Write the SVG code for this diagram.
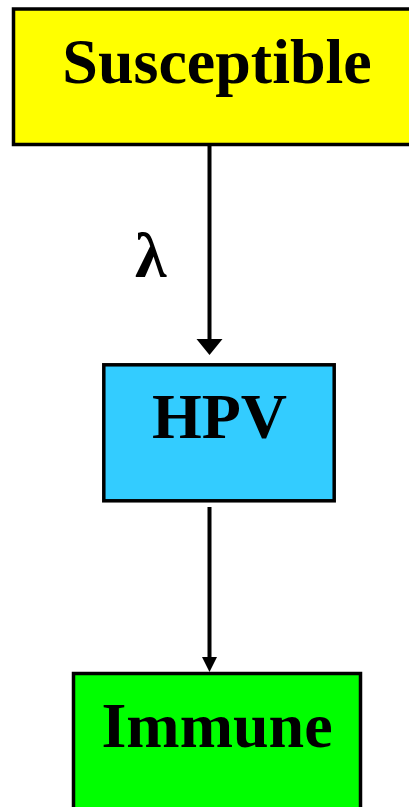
<svg xmlns="http://www.w3.org/2000/svg" width="409" height="807" viewBox="0 0 409 807">
  <style>
    .box { stroke: #000; stroke-width: 3.5; }
    .label { font-family: "Liberation Serif", "Times New Roman", serif; font-weight: bold; font-size: 64px; fill: #000; text-anchor: middle; }
    .edge { stroke: #000; stroke-width: 4; fill: none; }
    .head { fill: #000; stroke: none; }
    .rate { font-family: "Liberation Serif", "Times New Roman", serif; font-weight: bold; font-size: 64px; fill: #000; }
  </style>
  <rect width="409" height="807" fill="#fff"/>

  <g id="susceptible">
    <rect class="box" x="13.5" y="9" width="410" height="135.5" fill="#ffff00"/>
    <text class="label" x="217" y="83">Susceptible</text>
  </g>

  <g id="hpv">
    <rect class="box" x="103.8" y="364.8" width="230.4" height="136" fill="#33ccff"/>
    <text class="label" x="219.5" y="438">HPV</text>
  </g>

  <g id="immune">
    <rect class="box" x="73.5" y="673.5" width="287" height="150" fill="#00ff00"/>
    <text class="label" x="217" y="747">Immune</text>
  </g>

  <g id="connectors">
    <line class="edge" x1="209.5" y1="146" x2="209.5" y2="341"/>
    <polygon class="head" points="196.5,339 222.5,339 209.5,355"/>
    <text class="rate" x="135" y="277">λ</text>
    <line class="edge" x1="209.5" y1="507" x2="209.5" y2="659"/>
    <polygon class="head" points="202,657 217,657 209.5,672"/>
  </g>
</svg>
